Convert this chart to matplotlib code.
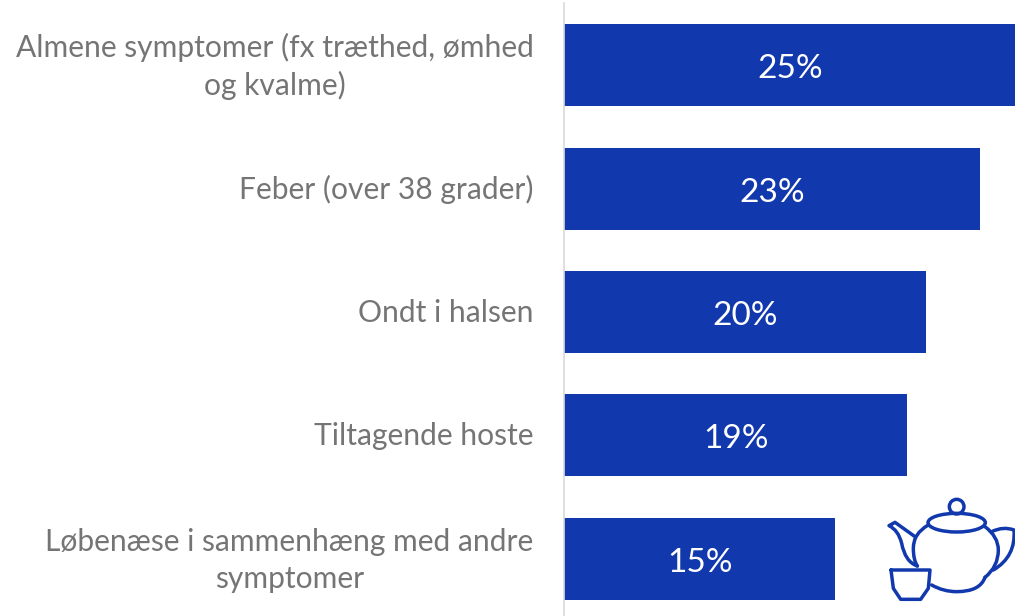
import matplotlib
matplotlib.use('Agg')
import matplotlib.pyplot as plt
from matplotlib.patches import Ellipse, Circle, PathPatch
from matplotlib.path import Path
from matplotlib.transforms import ScaledTranslation

plt.rcParams['font.family'] = ['Lato', 'DejaVu Sans']

categories = ['Almene symptomer (fx træthed, ømhed\nog kvalme)', 'Feber (over 38 grader)', 'Ondt i halsen',
              'Tiltagende hoste', 'Løbenæse i sammenhæng med andre\nsymptomer']
values = [25, 23, 20, 19, 15]
labels = ['25%', '23%', '20%', '19%', '15%']

W, H = 1015, 616
BLUE = '#1139AD'
fig = plt.figure(figsize=(W/100, H/100), dpi=100)
ax = fig.add_axes([564/W, 0, (W-564)/W, 1])
ax.set_xlim(0, 24.95)
y0 = [65, 189, 312, 435, 559]
ax.set_ylim(616, 0)
ax.barh(y0, values, height=82, color=BLUE)
for s in ['top', 'right', 'bottom']:
    ax.spines[s].set_visible(False)
ax.spines['left'].set_color('#D9D9D9')
ax.spines['left'].set_linewidth(1.2)
ax.spines['left'].set_bounds(3, 616)
ax.set_xticks([])
ax.set_yticks(y0)
ax.set_yticklabels(categories, fontsize=21.6, color='#757575', linespacing=1.38, ha='right', multialignment='center')
ax.tick_params(axis='y', length=0, pad=22)
for tl, cat in zip(ax.get_yticklabels(), categories):
    shift = 5.5 if '\n' in cat else 2
    tl.set_transform(tl.get_transform() + ScaledTranslation(0, shift/100, fig.dpi_scale_trans))
for y, v, l in zip(y0, values, labels):
    ax.text(v/2, y+4, l, color='white', fontsize=24, ha='center', va='center')

# Teapot decoration, drawn in the coordinates of a 3x crop of its region
deco = fig.add_axes([860/W, 0, 155/W, 136/H])
deco.set_xlim(0, 465)
deco.set_ylim(408, 0)
deco.axis('off')
deco.patch.set_alpha(0)
lw = 2.5
kw = dict(fill=False, edgecolor=BLUE, linewidth=lw, capstyle='round', joinstyle='round')
deco.add_patch(Ellipse((290, 128), 172, 56, **kw))
deco.add_patch(Circle((290, 80), 22, **kw))
M, C, L = Path.MOVETO, Path.CURVE3, Path.LINETO
shapes = [
    # body left
    ([(205, 135), (160, 160), (160, 205), (160, 240), (172, 258)], [M, C, C, C, C]),
    # body bottom
    ([(215, 315), (250, 335), (290, 335), (360, 335), (375, 292)], [M, C, C, C, C]),
    # body right
    ([(375, 292), (415, 260), (415, 210), (415, 170), (375, 140)], [M, C, C, C, C]),
    # handle
    ([(395, 155), (430, 138), (462, 150), (468, 230), (400, 270)], [M, C, C, C, C]),
    # spout
    ([(165, 170), (105, 127), (87, 137), (115, 150), (125, 190), (135, 245), (172, 258)],
     [M, L, L, C, C, C, C]),
    # cup
    ([(93, 270), (210, 270), (205, 325), (182, 358), (122, 358), (100, 325), (93, 270)],
     [M, L, L, L, L, L, L]),
]
for verts, codes in shapes:
    deco.add_patch(PathPatch(Path(verts, codes), **kw))
fig.savefig('out.png', dpi=100)
